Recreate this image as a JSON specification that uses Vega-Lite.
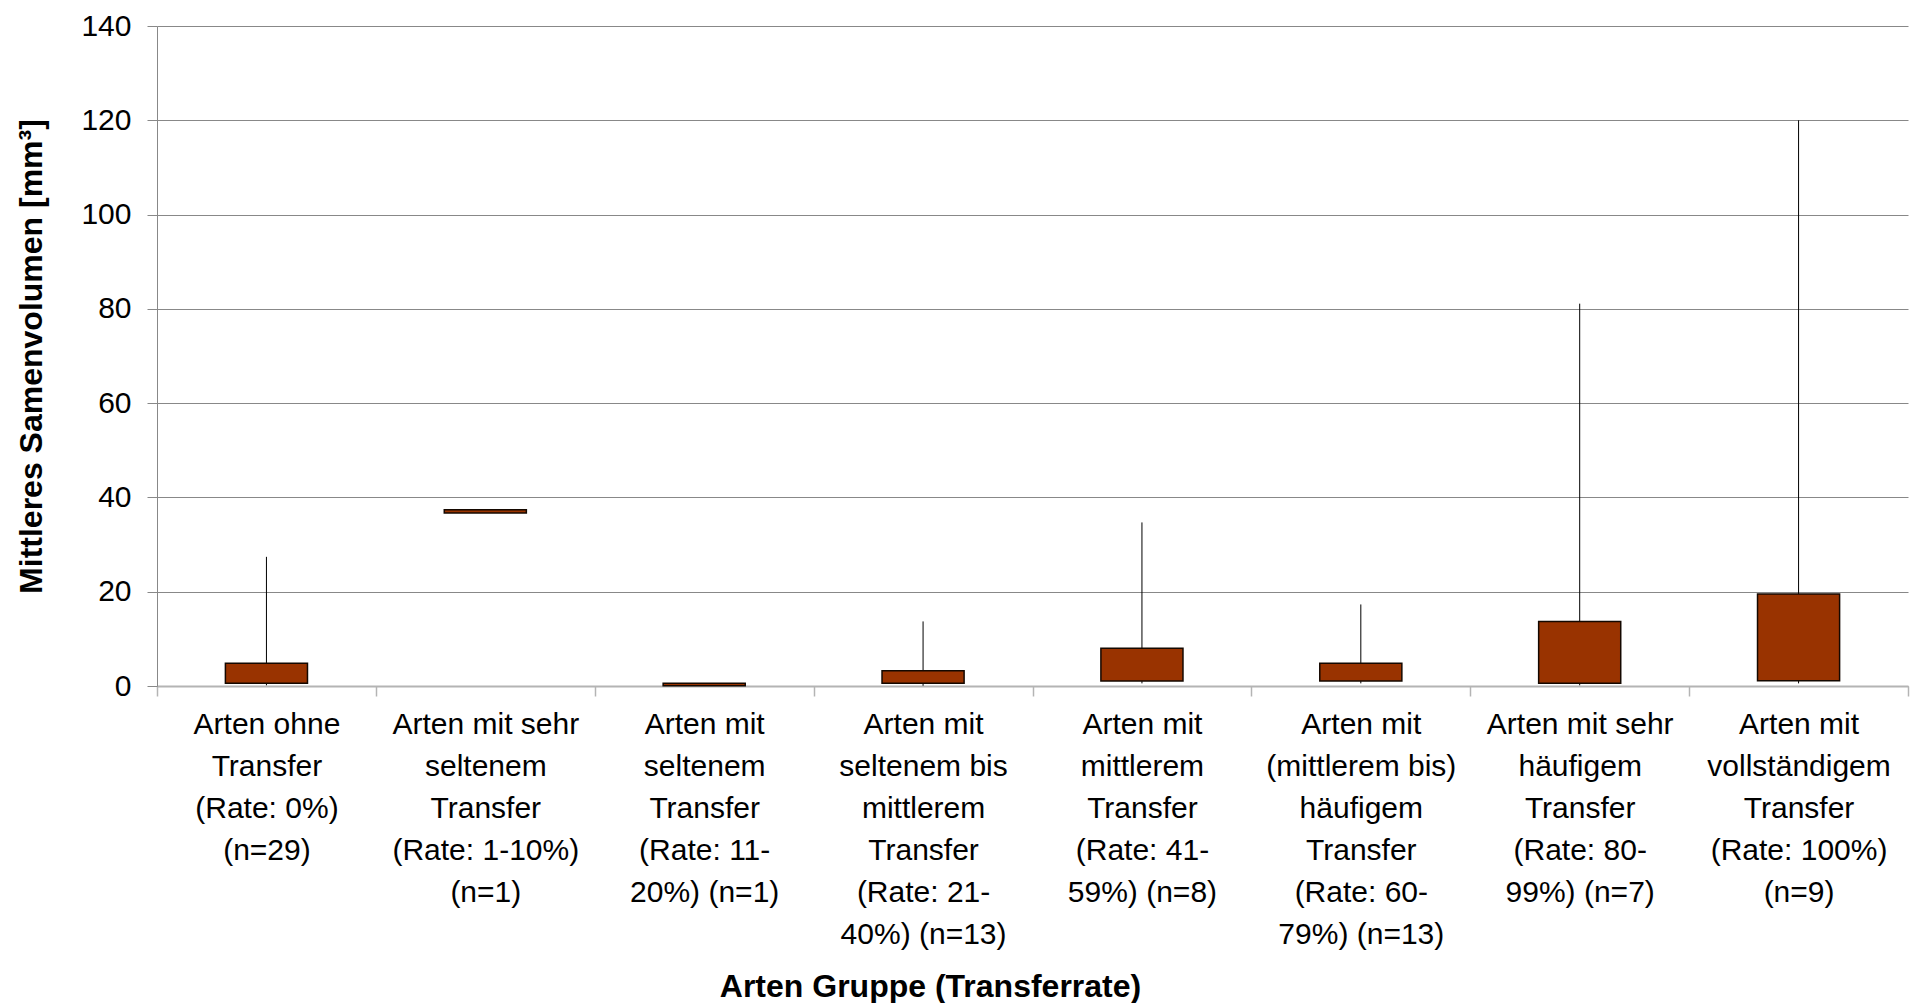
{
  "$schema": "https://vega.github.io/schema/vega-lite/v6.json",
  "width": 1751,
  "height": 660,
  "autosize": {"type": "none"},
  "padding": {"left": 157, "top": 26, "right": 4, "bottom": 317},
  "background": "white",
  "config": {
    "view": {"stroke": null},
    "font": "Liberation Sans"
  },
  "data": {
    "values": [
      {"gruppe": "Arten ohne\nTransfer\n(Rate: 0%)\n(n=29)", "min": 0.15, "q1": 0.57, "q3": 4.8, "max": 27.4},
      {"gruppe": "Arten mit sehr\nseltenem\nTransfer\n(Rate: 1-10%)\n(n=1)", "min": 36.9, "q1": 36.7, "q3": 37.4, "max": 37.2},
      {"gruppe": "Arten mit\nseltenem\nTransfer\n(Rate: 11-\n20%) (n=1)", "min": 0.0, "q1": 0.05, "q3": 0.6, "max": 0.6},
      {"gruppe": "Arten mit\nseltenem bis\nmittlerem\nTransfer\n(Rate: 21-\n40%) (n=13)", "min": 0.05, "q1": 0.57, "q3": 3.24, "max": 13.7},
      {"gruppe": "Arten mit\nmittlerem\nTransfer\n(Rate: 41-\n59%) (n=8)", "min": 0.56, "q1": 1.06, "q3": 8.0, "max": 34.7},
      {"gruppe": "Arten mit\n(mittlerem bis)\nhäufigem\nTransfer\n(Rate: 60-\n79%) (n=13)", "min": 0.56, "q1": 1.06, "q3": 4.8, "max": 17.3},
      {"gruppe": "Arten mit sehr\nhäufigem\nTransfer\n(Rate: 80-\n99%) (n=7)", "min": 0.15, "q1": 0.56, "q3": 13.66, "max": 81.1},
      {"gruppe": "Arten mit\nvollständigem\nTransfer\n(Rate: 100%)\n(n=9)", "min": 0.56, "q1": 1.12, "q3": 19.5, "max": 120}
    ]
  },
  "encoding": {
    "x": {
      "field": "gruppe",
      "type": "nominal",
      "sort": null,
      "scale": {"paddingInner": 0, "paddingOuter": 0},
      "axis": {
        "title": "Arten Gruppe (Transferrate)",
        "titleFont": "Liberation Sans",
        "titleFontSize": 32,
        "titleFontWeight": "bold",
        "titleColor": "black",
        "titleX": 773,
        "titleY": 310,
        "titleBaseline": "alphabetic",
        "labelExpr": "isValid(datum.value) ? split(datum.value, '\\n') : ''",
        "labelAngle": 0,
        "labelLimit": 0,
        "labelFont": "Liberation Sans",
        "labelFontSize": 30,
        "labelLineHeight": 42,
        "labelColor": "black",
        "labelPadding": 13,
        "labelBaseline": "top",
        "tickBand": "extent",
        "tickSize": 10,
        "tickColor": "#b4b4b4",
        "tickWidth": 1.5,
        "domainColor": "#b4b4b4",
        "domainWidth": 2,
        "grid": false
      }
    }
  },
  "layer": [
    {
      "mark": {"type": "rule", "color": "black", "strokeWidth": 1},
      "encoding": {
        "y": {
          "field": "min",
          "type": "quantitative",
          "scale": {"domain": [0, 140], "nice": false, "zero": true},
          "axis": {
            "title": "Mittleres Samenvolumen [mm³]",
            "titleFont": "Liberation Sans",
            "titleFontSize": 32,
            "titleFontWeight": "bold",
            "titleColor": "black",
            "titleX": -116,
            "titleBaseline": "alphabetic",
            "values": [0, 20, 40, 60, 80, 100, 120, 140],
            "labelFont": "Liberation Sans",
            "labelFontSize": 30,
            "labelColor": "black",
            "labelPadding": 16,
            "tickSize": 10,
            "tickColor": "#888888",
            "domainColor": "#888888",
            "domainWidth": 1,
            "grid": true,
            "gridColor": "#888888",
            "gridWidth": 1
          }
        },
        "y2": {"field": "max"}
      }
    },
    {
      "mark": {
        "type": "bar",
        "width": {"band": 0.375},
        "fill": "#993300",
        "stroke": "#140800",
        "strokeWidth": 1.5
      },
      "encoding": {
        "y": {"field": "q1", "type": "quantitative"},
        "y2": {"field": "q3"}
      }
    }
  ]
}
